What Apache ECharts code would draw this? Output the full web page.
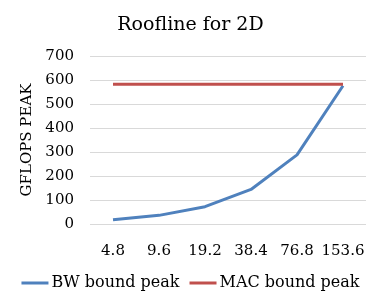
<!DOCTYPE html>
<html><head><meta charset="utf-8">
<script src="https://cdn.jsdelivr.net/npm/echarts@6/dist/echarts.min.js"></script>
<style>html,body{margin:0;padding:0;background:#fff}#c{width:381px;height:305px}</style>
</head><body><div id="c"></div>
<script>
const categories = ['4.8','9.6','19.2','38.4','76.8','153.6'];
const bwBoundPeak = [18, 36, 72, 144, 288, 576];
const macBoundPeak = [582, 582, 582, 582, 582, 582];
const font = 'DejaVu Serif';
const chart = echarts.init(document.getElementById('c'), null, {renderer:'canvas'});
chart.setOption({
  animation:false,
  title:{text:'Roofline for 2D', left:'center', top:11, textStyle:{fontFamily:font, fontSize:19, fontWeight:'normal', color:'#000'}},
  grid:{left:90, right:15, top:56, bottom:81},
  xAxis:{type:'category', data:categories, boundaryGap:true,
    axisLine:{show:false}, axisTick:{show:false},
    axisLabel:{fontFamily:font, fontSize:15, color:'#000', margin:20, interval:0}},
  yAxis:{type:'value', min:0, max:700, interval:100,
    name:'GFLOPS PEAK', nameLocation:'middle', nameGap:54,
    nameTextStyle:{fontFamily:font, fontSize:15, color:'#000'},
    axisLabel:{fontFamily:font, fontSize:15, color:'#000', margin:16},
    splitLine:{lineStyle:{color:'#d9d9d9', width:1}}},
  legend:{bottom:9, left:'center', itemWidth:27, itemHeight:3, itemGap:10, icon:'rect',
    textStyle:{fontFamily:font, fontSize:16, color:'#000', padding:[0,0,0,-2]},
    data:['BW bound peak','MAC bound peak']},
  series:[
    {name:'BW bound peak', type:'line', data:bwBoundPeak, symbol:'none', lineStyle:{color:'#4F81BD', width:3}, itemStyle:{color:'#4F81BD'}},
    {name:'MAC bound peak', type:'line', data:macBoundPeak, symbol:'none', lineStyle:{color:'#C0504D', width:3}, itemStyle:{color:'#C0504D'}}
  ]
});
</script></body></html>
